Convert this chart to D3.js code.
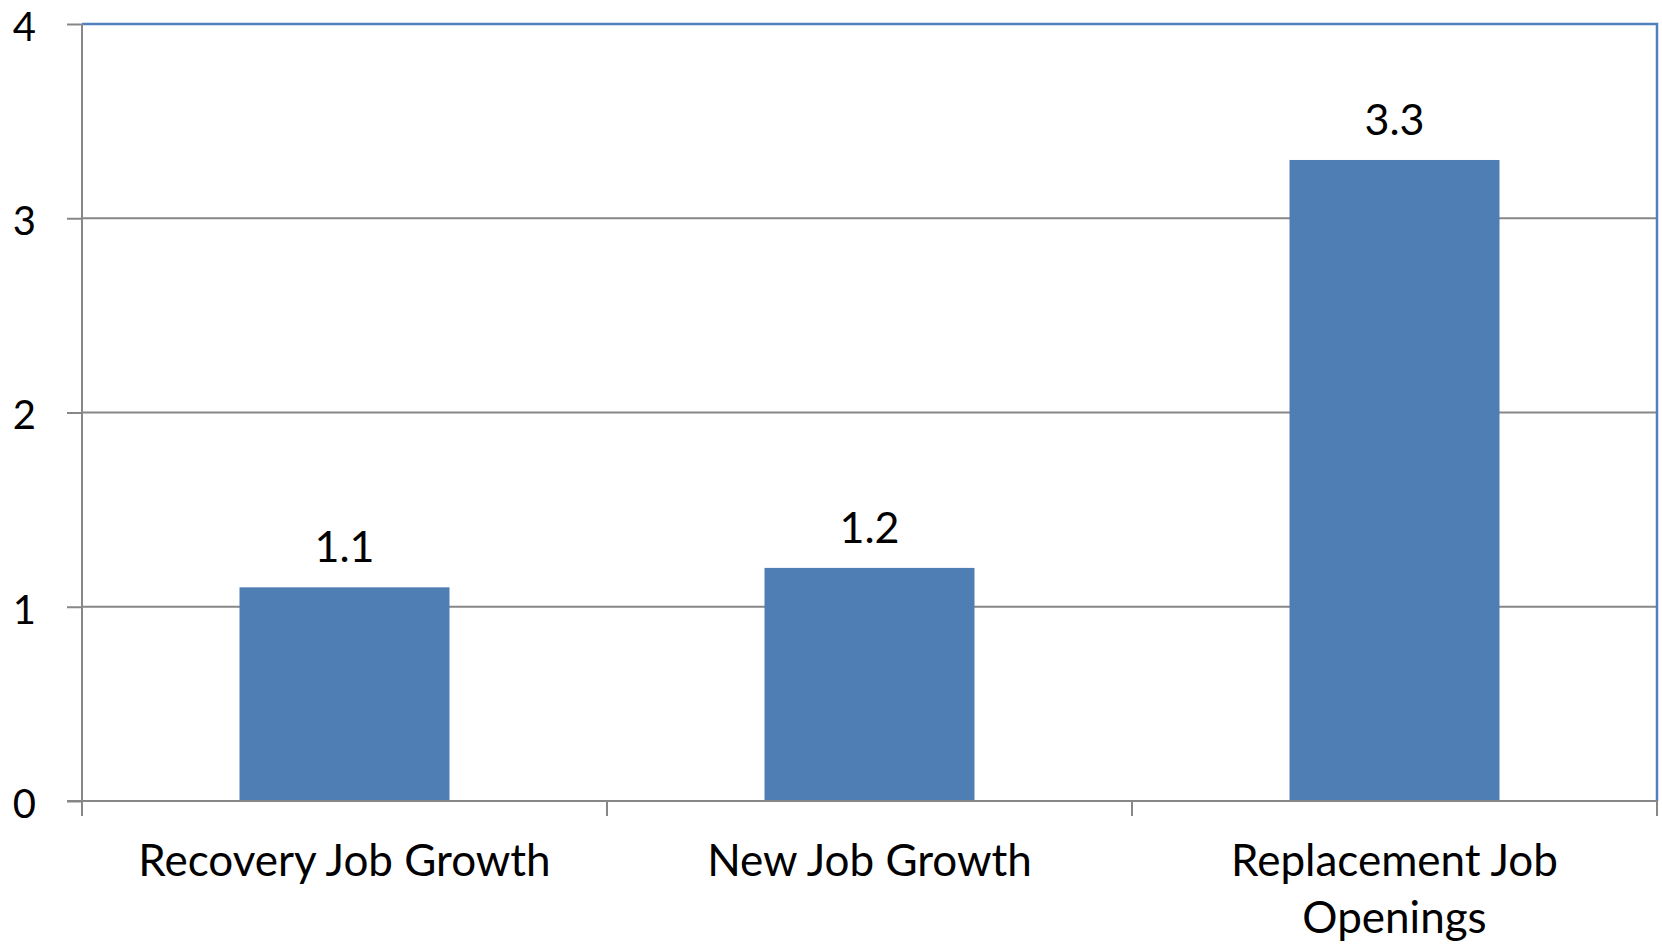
<!DOCTYPE html>
<html>
<head>
<meta charset="utf-8">
<script src="https://cdn.jsdelivr.net/npm/d3@7"></script>
<style>
  html, body { margin: 0; padding: 0; background: #fff; }
  svg { display: block; }
  text { font-family: Lato, "Open Sans", sans-serif; fill: #000; }
</style>
</head>
<body>
<div id="chart"></div>
<script>
// Data
const categories = ["Recovery Job Growth", "New Job Growth", "Replacement Job Openings"];
const labelLines = [["Recovery Job Growth"], ["New Job Growth"], ["Replacement Job", "Openings"]];
const values = [1.1, 1.2, 3.3];
const yTicks = [0, 1, 2, 3, 4];

const width = 1662, height = 947;
const margin = { top: 24, right: 5, bottom: 146, left: 82 };
const innerW = width - margin.left - margin.right;
const innerH = height - margin.top - margin.bottom;

const gray = "#878787";
const blue = "#4F7EB5";
const borderBlue = "#4F81BD";

const svg = d3.select("#chart").append("svg")
    .attr("width", width)
    .attr("height", height);

const g = svg.append("g")
    .attr("transform", `translate(${margin.left},${margin.top})`);

const x = d3.scaleBand()
    .domain(categories)
    .range([0, innerW])
    .paddingInner(0.6)
    .paddingOuter(0.3);

const y = d3.scaleLinear()
    .domain([0, 4])
    .range([innerH, 0]);

// Gridlines
g.append("g")
    .selectAll("line")
    .data(yTicks.filter(d => d > 0 && d < 4))
    .join("line")
    .attr("x1", 0)
    .attr("x2", innerW)
    .attr("y1", d => y(d))
    .attr("y2", d => y(d))
    .attr("stroke", gray)
    .attr("stroke-width", 2);

// Plot border (top and right)
g.append("path")
    .attr("d", `M0,${y(4)}H${innerW}V${innerH}`)
    .attr("fill", "none")
    .attr("stroke", borderBlue)
    .attr("stroke-width", 2.5);

// Bars
g.append("g")
    .selectAll("rect")
    .data(values)
    .join("rect")
    .attr("x", (d, i) => x(categories[i]))
    .attr("width", x.bandwidth())
    .attr("y", d => y(d))
    .attr("height", d => innerH - y(d))
    .attr("fill", blue);

// Data labels
g.append("g")
    .selectAll("text")
    .data(values)
    .join("text")
    .attr("x", (d, i) => x(categories[i]) + x.bandwidth() / 2)
    .attr("y", d => y(d) - 25)
    .attr("text-anchor", "middle")
    .style("font-size", "43px")
    .text(d => d.toFixed(1));

// Y axis
const yAxis = g.append("g")
    .call(d3.axisLeft(y).tickValues(yTicks).tickSize(15).tickPadding(31).tickFormat(d3.format("d")));
yAxis.select(".domain").remove();
yAxis.selectAll(".tick line").attr("stroke", gray).attr("stroke-width", 2);
yAxis.selectAll(".tick text").style("font-size", "40px").attr("dy", "0.41em");
g.append("line")
    .attr("x1", 0).attr("x2", 0)
    .attr("y1", 0).attr("y2", innerH + 15)
    .attr("stroke", gray).attr("stroke-width", 2);

// X axis
g.append("line")
    .attr("x1", -15).attr("x2", innerW)
    .attr("y1", innerH).attr("y2", innerH)
    .attr("stroke", gray).attr("stroke-width", 2);

const step = x.step();
g.append("g")
    .selectAll("line")
    .data(d3.range(categories.length + 1))
    .join("line")
    .attr("x1", i => i * step)
    .attr("x2", i => i * step)
    .attr("y1", innerH)
    .attr("y2", innerH + 15)
    .attr("stroke", gray)
    .attr("stroke-width", 2);

const xl = g.append("g")
    .selectAll("text")
    .data(categories)
    .join("text")
    .attr("x", d => x(d) + x.bandwidth() / 2)
    .attr("y", innerH + 75)
    .attr("text-anchor", "middle")
    .style("font-size", "44px");

xl.selectAll("tspan")
    .data((d, i) => labelLines[i])
    .join("tspan")
    .attr("x", function () { return this.parentNode.getAttribute("x"); })
    .attr("dy", (d, i) => i === 0 ? 0 : 57)
    .text(d => d);
</script>
</body>
</html>
